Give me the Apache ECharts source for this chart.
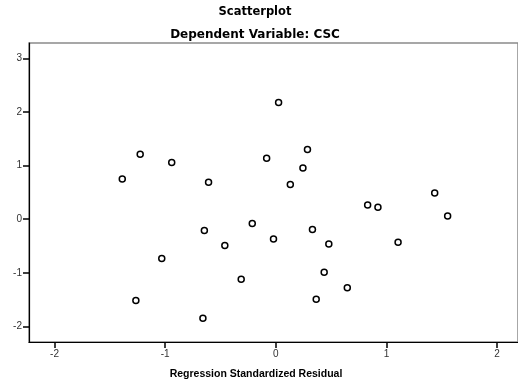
<!DOCTYPE html>
<html>
<head>
<meta charset="utf-8">
<script src="https://cdn.jsdelivr.net/npm/echarts@6/dist/echarts.min.js"></script>
<style>
  html, body { margin: 0; padding: 0; background: #fff; }
  #chart { width: 518px; height: 385px; }
</style>
</head>
<body>
<div id="chart"></div>
<script>
// Regression standardized residual (x) vs. dependent variable CSC (y)
const residuals = [
  0.025, -1.226, -0.941, -1.388, -0.608, -0.083, 0.131, 0.286, 0.245,
  0.830, 0.923, 1.436, 1.553, -0.213, -0.646, -0.021, -0.461, -1.031,
  -0.313, -1.265, -0.659, 0.331, 0.479, 1.105, 0.437, 0.646, 0.365
];
const cscValues = [
  2.175, 1.212, 1.057, 0.751, 0.690, 1.137, 0.647, 1.299, 0.956,
  0.267, 0.224, 0.490, 0.060, -0.080, -0.211, -0.369, -0.490, -0.733,
  -1.118, -1.515, -1.845, -0.192, -0.460, -0.429, -0.988, -1.280, -1.491
];
const xTicks = [-2, -1, 0, 1, 2];
const yTicks = [-2, -1, 0, 1, 2, 3];

const points = residuals.map((x, i) => [x, cscValues[i]]);
const font = '"Liberation Sans", Arial, sans-serif';
const wideFont = '"DejaVu Sans", sans-serif';

const chart = echarts.init(document.getElementById('chart'), null, { renderer: 'canvas' });
chart.setOption({
  animation: false,
  backgroundColor: '#ffffff',
  title: [
    {
      text: 'Scatterplot', left: 250, top: 1, textAlign: 'center',
      textStyle: { fontFamily: wideFont, fontSize: 11.5, fontWeight: 'bold', color: '#000' }
    },
    {
      text: 'Dependent Variable: CSC', left: 250, top: 24, textAlign: 'center',
      textStyle: { fontFamily: wideFont, fontSize: 12, fontWeight: 'bold', color: '#000' }
    },
    {
      text: 'Regression Standardized Residual', left: 251, top: 364, textAlign: 'center',
      textStyle: { fontFamily: font, fontSize: 10.5, fontWeight: 'bold', color: '#000' }
    }
  ],
  grid: {
    left: 29, top: 43, right: -2, bottom: 43,
    show: true, borderColor: '#8a8a8a', borderWidth: 1.5, backgroundColor: '#fff'
  },
  xAxis: {
    type: 'value', min: -2.231, max: 2.189,
    splitLine: { show: false },
    axisLine: { show: true, onZero: false, lineStyle: { color: '#000', width: 1.2 } },
    axisTick: { show: true, customValues: xTicks, length: 6, lineStyle: { color: '#000', width: 1.5 } },
    axisLabel: { customValues: xTicks, margin: 7, fontFamily: font, fontSize: 10, color: '#333' }
  },
  yAxis: {
    type: 'value', min: -2.290, max: 3.287,
    splitLine: { show: false },
    axisLine: { show: true, onZero: false, lineStyle: { color: '#000', width: 1.2 } },
    axisTick: { show: true, customValues: yTicks, length: 6, lineStyle: { color: '#000', width: 1.5 } },
    axisLabel: { customValues: yTicks, margin: 7, fontFamily: font, fontSize: 10, color: '#333' }
  },
  series: [{
    type: 'scatter',
    data: points,
    symbol: 'circle',
    symbolSize: 6,
    itemStyle: { color: '#fff', borderColor: '#000', borderWidth: 1.5, opacity: 1 }
  }]
});
</script>
</body>
</html>
